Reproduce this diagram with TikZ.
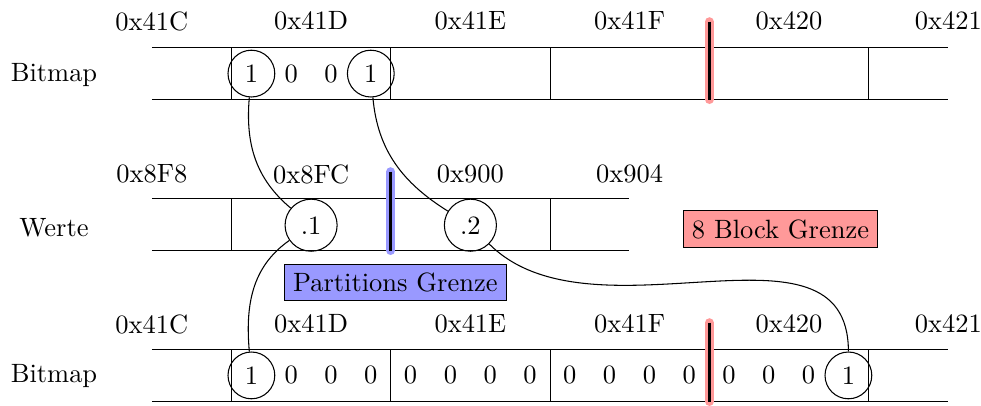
\documentclass[tikz,border=0pt]{standalone}
\definecolor{partblue}{RGB}{153,153,255}
\definecolor{blockred}{RGB}{255,153,153}
\tikzset{
  bitval/.style={inner sep=3.33pt},
  setbit/.style={bitval,circle,draw},
  grenze/.style={line width=1.2pt},
  grenzehl/.style={line width=3.4pt,line cap=round},
  tag/.style={draw,rectangle,inner sep=3.33pt},
  link/.style={line width=0.4pt}
}
\begin{document}
\begin{tikzpicture}[x=0.01328cm,y=0.01328cm]
\useasboundingbox (0,0) rectangle (981,405);
% geometry: cell width 159.3, bit pitch 39.8, row height 52.7
\def\cw{159.3}

% ---------- row frames ----------
% top bitmap
\draw (151.8,305.5) -- (947.6,305.5);
\draw (151.8,357.8) -- (947.6,357.8);
\foreach \x in {231.5,390.8,550.1,868.7} \draw (\x,305.5) -- (\x,357.8);
% values
\draw (151.8,154.5) -- (629.4,154.5);
\draw (151.8,206.8) -- (629.4,206.8);
\foreach \x in {231.5,550.1} \draw (\x,154.5) -- (\x,206.8);
% bottom bitmap
\draw (151.8,3.5) -- (947.6,3.5);
\draw (151.8,55.8) -- (947.6,55.8);
\foreach \x in {231.5,390.8,550.1,868.7} \draw (\x,3.5) -- (\x,55.8);

% ---------- boundary markers ----------
\draw[grenzehl,blockred] (709.4,383.3) -- (709.4,305.5);
\draw[grenze] (709.4,383.3) -- (709.4,305.5);
\draw[grenzehl,partblue] (390.8,233.3) -- (390.8,154.5);
\draw[grenze] (390.8,233.3) -- (390.8,154.5);
\draw[grenzehl,blockred] (709.4,82.3) -- (709.4,3.5);
\draw[grenze] (709.4,82.3) -- (709.4,3.5);

% ---------- address labels ----------
\foreach \t [count=\i from 0] in {0x41C,0x41D,0x41E,0x41F,0x420,0x421}
  \node (ta\i) at (151.8+\i*\cw,384) {\t};
\foreach \t [count=\i from 0] in {0x8F8,0x8FC,0x900,0x904}
  \node (va\i) at (151.8+\i*\cw,231) {\t};
\foreach \t [count=\i from 0] in {0x41C,0x41D,0x41E,0x41F,0x420,0x421}
  \node (ba\i) at (151.8+\i*\cw,81) {\t};

% ---------- row names ----------
\node (tname) at (54,330) {Bitmap};
\node (vname) at (54,177) {Werte};
\node (bname) at (54,29) {Bitmap};

% ---------- bits ----------
\node[setbit] (tb0) at (251.4,331.4) {1};
\node[bitval] (tb1) at (291.2,331.4) {0};
\node[bitval] (tb2) at (331.0,331.4) {0};
\node[setbit] (tb3) at (370.8,331.4) {1};

\node[setbit] (bb0) at (251.4,29.6) {1};
\foreach \k in {1,...,14}
  \node[bitval] (bb\k) at (251.4+\k*39.8,29.6) {0};
\node[setbit] (bb15) at (848.4,29.6) {1};

% ---------- values ----------
\node[setbit] (v1) at (311.1,179.8) {.1};
\node[setbit] (v2) at (470.4,179.8) {.2};

% ---------- tags ----------
\node[tag,fill=partblue] (pg) at (395.3,122.5) {Partitions Grenze};
\node[tag,fill=blockred] (bg) at (780.5,175.7) {8 Block Grenze};

% ---------- links ----------
\draw[link] (tb0) to[out=-95,in=140] (v1);
\draw[link] (tb3) to[out=-85,in=148] (v2);
\draw[link] (v1) to[out=215,in=95] (bb0);
\draw[link] (v2) to[out=-45,in=90] (bb15);
\end{tikzpicture}
\end{document}
